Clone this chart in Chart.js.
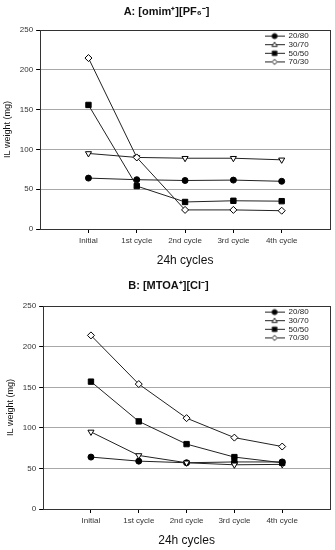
<!DOCTYPE html>
<html>
<head>
<meta charset="utf-8">
<script src="https://cdn.jsdelivr.net/npm/chart.js@4/dist/chart.umd.min.js"></script>
<style>
  body { margin: 0; background: #fff; }
  canvas { display: block; }
</style>
</head>
<body>
<canvas id="chartA" width="335" height="276"></canvas>
<canvas id="chartB" width="335" height="274"></canvas>
<script>
// data
const cycles = ['Initial', '1st cycle', '2nd cycle', '3rd cycle', '4th cycle']
const ratios = ['20/80', '30/70', '50/50', '70/30']
const yTicks = [0, 50, 100, 150, 200, 250]

// A: [omim+][PF6-]
const omim2080 = [64, 62, 61, 61.5, 60]
const omim3070 = [95, 90, 89, 89, 87]
const omim5050 = [156, 54, 34, 35.5, 35]
const omim7030 = [215, 90, 24, 24, 23]

// B: [MTOA+][Cl-]
const mtoa2080 = [64, 59, 57, 58, 58]
const mtoa3070 = [95, 66, 57, 54.5, 55]
const mtoa5050 = [157, 108, 80, 64, 57]
const mtoa7030 = [214, 154, 112, 88, 77]

const font = 'Liberation Sans, Arial, sans-serif'

// marker looks, same order as ratios
const markers = [
  { style: 'circle', rotation: 0, radius: 3, fill: '#000' },
  { style: 'triangle', rotation: 180, radius: 3.5, fill: '#fff' },
  { style: 'rect', rotation: 0, radius: 3.8, fill: '#000' },
  { style: 'rectRot', rotation: 0, radius: 3.5, fill: '#fff' }
]

// small picture of line + marker for the legend
function legendIcon(m) {
  let c = document.createElement('canvas')
  c.width = 20
  c.height = 9
  let g = c.getContext('2d')
  g.strokeStyle = '#222'
  g.lineWidth = 1
  g.beginPath()
  g.moveTo(0, 4.5)
  g.lineTo(20, 4.5)
  g.stroke()
  g.fillStyle = m.fill
  g.beginPath()
  let x = 10, y = 4.5, r = 2.6
  if (m.style == 'circle') {
    g.arc(x, y, r, 0, Math.PI * 2)
  } else if (m.style == 'triangle') {
    g.moveTo(x - r, y - r * 0.7)
    g.lineTo(x + r, y - r * 0.7)
    g.lineTo(x, y + r)
    g.closePath()
  } else if (m.style == 'rect') {
    g.rect(x - r + 0.3, y - r + 0.3, 2 * r - 0.6, 2 * r - 0.6)
  } else {
    g.moveTo(x, y - r)
    g.lineTo(x + r, y)
    g.lineTo(x, y + r)
    g.lineTo(x - r, y)
    g.closePath()
  }
  g.fill()
  g.stroke()
  return c
}
const icons = markers.map(legendIcon)

// box around the plot area
const frame = {
  id: 'frame',
  beforeDatasetsDraw(chart) {
    let a = chart.chartArea
    let ctx = chart.ctx
    ctx.save()
    ctx.strokeStyle = '#333'
    ctx.lineWidth = 1
    ctx.strokeRect(Math.round(a.left) + 0.5, Math.round(a.top) + 0.5,
      Math.round(a.right) - Math.round(a.left), Math.round(a.bottom) - Math.round(a.top))
    ctx.restore()
  }
}

// legend sits in the top right corner of the plot
const legendCorner = {
  id: 'legendCorner',
  afterLayout(chart) {
    let lg = chart.legend
    let a = chart.chartArea
    let w = lg.width
    lg.left = a.right - 66
    lg.right = lg.left + w
    lg.top = a.top + 1.3
    lg.bottom = lg.top + lg.height
  }
}

function makeDatasets(series) {
  return series.map((values, i) => ({
    label: ratios[i],
    data: values.map((v, k) => ({ x: k, y: v })),
    order: series.length - i, // later series drawn on top, like the original
    borderColor: '#222',
    borderWidth: 1,
    backgroundColor: markers[i].fill,
    pointStyle: markers[i].style,
    rotation: markers[i].rotation,
    pointRadius: markers[i].radius,
    pointBackgroundColor: markers[i].fill,
    pointBorderColor: '#000',
    pointBorderWidth: 1,
    fill: false,
    tension: 0
  }))
}

function makeChart(id, title, series, pad) {
  return new Chart(document.getElementById(id), {
    type: 'line',
    data: { datasets: makeDatasets(series) },
    options: {
      responsive: false,
      animation: false,
      layout: { padding: pad.layout },
      scales: {
        x: {
          type: 'linear',
          min: -1,
          max: 5,
          afterBuildTicks(axis) {
            axis.ticks = cycles.map((c, i) => ({ value: i }))
          },
          ticks: {
            callback: v => cycles[v] ?? '',
            autoSkip: false,
            maxRotation: 0,
            font: { size: 8, family: font },
            color: '#333',
            padding: 3
          },
          grid: { drawOnChartArea: false, tickLength: 4, tickColor: '#000' },
          border: { color: '#000' },
          title: {
            display: true,
            text: '24h cycles',
            font: { size: 12, family: font },
            color: '#111',
            padding: { top: 5, bottom: 2 }
          }
        },
        y: {
          min: yTicks[0],
          max: yTicks[yTicks.length - 1],
          afterBuildTicks(axis) {
            axis.ticks = yTicks.map(v => ({ value: v }))
          },
          ticks: { font: { size: 8, family: font }, color: '#333', padding: 3 },
          grid: { color: '#a8a8a8', tickLength: 4, tickColor: '#000' },
          border: { color: '#000' },
          title: {
            display: true,
            text: 'IL weight (mg)',
            font: { size: 9, family: font },
            color: '#111',
            padding: { top: 1, bottom: 4 }
          }
        }
      },
      plugins: {
        title: {
          display: true,
          text: title,
          font: { size: 11, weight: 'bold', family: font },
          color: '#111',
          padding: pad.title
        },
        legend: {
          position: 'chartArea',
          align: 'start',
          labels: {
            usePointStyle: true,
            pointStyleWidth: 20,
            boxHeight: 8,
            padding: 0.6,
            font: { size: 8, family: font },
            color: '#222',
            generateLabels(chart) {
              let items = Chart.defaults.plugins.legend.labels.generateLabels(chart)
              items.sort((a, b) => a.datasetIndex - b.datasetIndex)
              items.forEach(it => { it.pointStyle = icons[it.datasetIndex] })
              return items
            }
          }
        },
        tooltip: { enabled: false }
      }
    },
    plugins: [frame, legendCorner]
  })
}

makeChart('chartA', 'A: [omim\u207A][PF\u2086\u207B]',
  [omim2080, omim3070, omim5050, omim7030],
  { layout: { left: 1, right: 3, top: 0, bottom: 6 }, title: { top: 5, bottom: 12 } })

makeChart('chartB', 'B: [MTOA\u207A][Cl\u207B]',
  [mtoa2080, mtoa3070, mtoa5050, mtoa7030],
  { layout: { left: 4, right: 2, top: 0, bottom: 0 }, title: { top: 3.5, bottom: 13.5 } })
</script>
</body>
</html>
